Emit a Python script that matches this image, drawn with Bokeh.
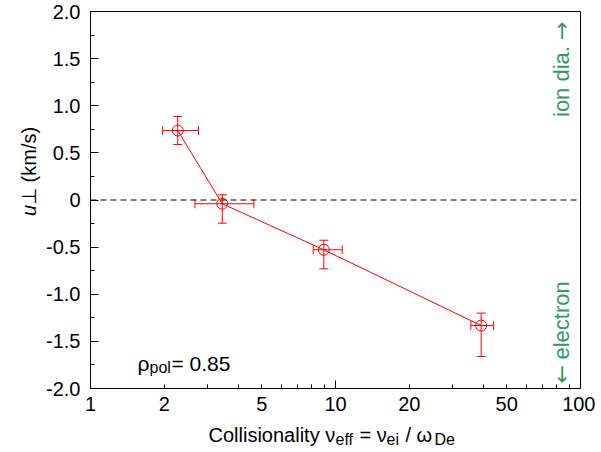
from math import pi
from bokeh.plotting import figure
from bokeh.models import (LogAxis, FixedTicker, Whisker, ColumnDataSource, Span,
                          Label, Range1d, TeeHead)
from bokeh.core.properties import value
from bokeh.embed import file_html
from bokeh.resources import INLINE

# ---- data ----
nu_eff = [2.27, 3.45, 8.96, 39.3]
nu_lo = [1.97, 2.67, 8.11, 35.7]
nu_hi = [2.76, 4.64, 10.65, 44.2]
u_perp = [0.737, -0.04, -0.528, -1.332]
u_lo = [0.589, -0.246, -0.73, -1.66]
u_hi = [0.886, 0.055, -0.427, -1.20]

x_ticks = [1, 2, 5, 10, 20, 50, 100]
x_tick_labels = ["1", "2", "5", "10", "20", "50", "100"]
x_minor = [3, 4, 6, 7, 8, 9, 30, 40, 60, 70, 80, 90]
x_decades = [1, 10, 100]
y_ticks = [-2.0, -1.5, -1.0, -0.5, 0.0, 0.5, 1.0, 1.5, 2.0]
y_tick_labels = ["-2.0", "-1.5", "-1.0", "-0.5", "0", "0.5", "1.0", "1.5", "2.0"]
y_minor = [-1.75, -1.25, -0.75, -0.25, 0.25, 0.75, 1.25, 1.75]
rho_pol = "0.85"

FONT = "Liberation Sans"
RED = "#ff0000"
GREEN = "#339966"
MAIN = "20px"
SUB = "16px"

p = figure(width=595, height=448, x_axis_type="log",
           x_range=Range1d(1, 100), y_range=Range1d(-2, 2),
           output_backend="svg", toolbar_location=None,
           min_border_left=90, min_border_right=15,
           min_border_top=11, min_border_bottom=60)
p.xgrid.visible = False
p.ygrid.visible = False
p.outline_line_color = "black"
p.outline_line_alpha = 1
p.background_fill_color = "white"
p.border_fill_color = "white"

xa = p.xaxis[0]
xa.ticker = FixedTicker(ticks=x_ticks, minor_ticks=x_minor)
xa.major_label_overrides = dict(zip(x_ticks, x_tick_labels))
xa.major_tick_in = 4
xa.major_tick_out = 0
xa.minor_tick_in = 4
xa.minor_tick_out = 0
xa.major_label_standoff = 8

ya = p.yaxis[0]
ya.ticker = FixedTicker(ticks=y_ticks, minor_ticks=y_minor)
ya.major_label_overrides = dict(zip(y_ticks, y_tick_labels))
ya.major_tick_in = 8
ya.major_tick_out = 0
ya.minor_tick_in = 4
ya.minor_tick_out = 0
ya.major_label_standoff = 10

for ax in (xa, ya):
    ax.axis_line_color = "black"
    ax.major_tick_line_color = "black"
    ax.minor_tick_line_color = "black"
    ax.major_label_text_font = FONT
    ax.major_label_text_font_size = MAIN
    ax.major_label_text_color = "black"

# longer ticks at the decades
dec = LogAxis(ticker=FixedTicker(ticks=x_decades, minor_ticks=[]),
              fixed_location=-2.0, major_tick_in=8, major_tick_out=0,
              minor_tick_in=0, minor_tick_out=0,
              major_label_overrides={d: "" for d in x_decades},
              major_label_text_font_size="0px", axis_line_color=None,
              major_tick_line_color="black")
p.add_layout(dec, "below")

# zero line
p.add_layout(Span(location=0, dimension="width", line_color="black",
                  line_dash="6 4", line_width=1))

src = ColumnDataSource(dict(x=nu_eff, y=u_perp, xl=nu_lo, xh=nu_hi,
                            yl=u_lo, yh=u_hi))
wy = Whisker(source=src, base="x", lower="yl", upper="yh", dimension="height",
             line_color=RED, line_width=1,
             upper_head=TeeHead(size=9, line_color=RED, line_width=1),
             lower_head=TeeHead(size=9, line_color=RED, line_width=1))
wx = Whisker(source=src, base="y", lower="xl", upper="xh", dimension="width",
             line_color=RED, line_width=1,
             upper_head=TeeHead(size=9, line_color=RED, line_width=1),
             lower_head=TeeHead(size=9, line_color=RED, line_width=1))
p.add_layout(wy)
p.add_layout(wx)
p.line("x", "y", source=src, line_color=RED, line_width=1)
p.scatter("x", "y", source=src, marker="circle", size=11, fill_color=None,
          line_color=RED, line_width=1)


def lab(text, x, y, xo, yo, size=MAIN, color="black", angle=0,
        align="left", baseline="alphabetic", style="normal", font=FONT):
    p.add_layout(Label(x=x, y=y, x_offset=xo, y_offset=yo, text=text,
                       text_font=font, text_font_size=size, text_color=color,
                       angle=angle, text_align=align, text_baseline=baseline,
                       text_font_style=style))


def outer(text, x, y, xo, yo, size=MAIN, angle=0, baseline="alphabetic",
          style="normal"):
    # text glyph drawn at overlay level, so it is not clipped to the frame
    p.text(x=[x], y=[y], text=[text], x_offset=xo, y_offset=yo, angle=angle,
           text_font=value(FONT), text_font_size=value(size),
           text_color="black", text_align="left", text_baseline=baseline,
           text_font_style=style, level="overlay")


# x-axis title with subscripts
outer("Collisionality \u03bd", 1, -2, 118, 46)
outer("eff", 1, -2, 245, 51, size=SUB)
outer("= \u03bd", 1, -2, 269, 46)
outer("ei", 1, -2, 296, 51, size=SUB)
outer("/ \u03c9", 1, -2, 315, 46)
outer("De", 1, -2, 344, 51, size=SUB)

# y-axis title
outer("u", 1, 0, -62, 16, angle=pi / 2, baseline="middle", style="italic")
outer("\u22a5 (km/s)", 1, 0, -62, 5, angle=pi / 2, baseline="middle")

# rho_pol annotation
lab("\u03c1", 1, -2, 47, 25, size="21px")
lab("pol", 1, -2, 59, 21, size="16px")
lab("= " + rho_pol, 1, -2, 81, 25, size="21px")

# direction hints
GS = "22px"
lab("ion dia.", 100, 0, -19, 83, size=GS, color=GREEN, angle=pi / 2,
    baseline="middle")
lab("\u2192", 100, 0, -19, 160, size=GS, color=GREEN, angle=pi / 2,
    baseline="middle", font="DejaVu Sans")
lab("electron", 100, -2, -19, 29, size=GS, color=GREEN, angle=pi / 2,
    baseline="middle")
lab("\u2190", 100, -2, -19, 5, size=GS, color=GREEN, angle=pi / 2,
    baseline="middle", font="DejaVu Sans")

open("out.html", "w").write(file_html(p, INLINE))
